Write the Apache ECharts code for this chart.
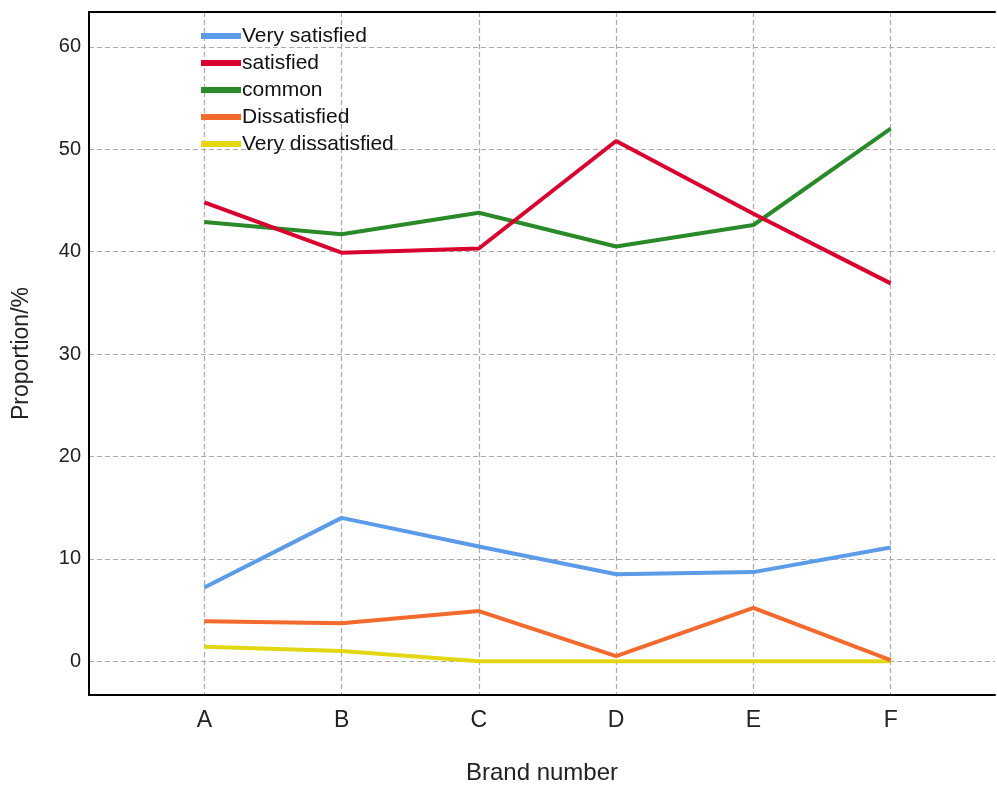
<!DOCTYPE html>
<html>
<head>
<meta charset="utf-8">
<script src="https://cdn.jsdelivr.net/npm/echarts@6/dist/echarts.min.js"></script>
<style>html,body{margin:0;padding:0;background:#fff}#c{width:997px;height:785px}</style>
</head>
<body>
<div id="c"></div>
<script>
var categories = ['A','B','C','D','E','F'];
var yTicks = [0,10,20,30,40,50,60];
var seriesNames = ['Very satisfied','satisfied','common','Dissatisfied','Very dissatisfied'];
var verySatisfied = [7.2,14.0,11.2,8.5,8.7,11.1];
var satisfied = [44.8,39.9,40.3,50.8,43.7,36.9];
var common = [42.9,41.7,43.8,40.5,42.6,52.0];
var dissatisfied = [3.9,3.7,4.9,0.5,5.2,0.1];
var veryDissatisfied = [1.4,1.0,0,0,0,0];
var colors = ['#5b9be8','#d8002e','#2a8a2a','#f36a2e','#e2d712'];

var allData = [verySatisfied,satisfied,common,dissatisfied,veryDissatisfied];
var chart = echarts.init(document.getElementById('c'));
var font = 'Liberation Sans, Arial, sans-serif';
var grid = {color:'#aaaaaa',type:[5,3],width:1.2};
chart.setOption({
  animation:false,
  textStyle:{fontFamily:font},
  grid:{left:89,top:12,right:2,bottom:90,containLabel:false,outerBoundsMode:'none'},
  legend:{
    orient:'vertical',left:196,top:20,itemGap:5,itemWidth:40,itemHeight:6,
    icon:'rect',data:seriesNames,
    textStyle:{fontSize:21,color:'#111',fontFamily:font,padding:[0,0,0,-4],lineHeight:22}
  },
  xAxis:[{
    type:'value',min:-0.84,max:5.76,
    name:'Brand number',nameLocation:'middle',nameGap:66,
    nameTextStyle:{fontSize:24,color:'#222',fontFamily:font},
    axisLine:{show:true,onZero:false,lineStyle:{color:'#000',width:2}},
    axisTick:{show:false,customValues:[0,1,2,3,4,5]},
    axisLabel:{customValues:[0,1,2,3,4,5],fontSize:23,color:'#222',margin:14,
      formatter:function(v){return categories[Math.round(v)];}},
    splitLine:{show:true,lineStyle:grid}
  },{
    type:'value',position:'top',min:-0.84,max:5.76,
    axisLine:{show:true,onZero:false,lineStyle:{color:'#000',width:2}},
    axisTick:{show:false},axisLabel:{show:false},splitLine:{show:false}
  }],
  yAxis:{
    type:'value',min:-3.3,max:63.4,
    name:'Proportion/%',nameLocation:'middle',nameGap:56,
    nameTextStyle:{fontSize:23,color:'#222',fontFamily:font},
    axisLine:{show:true,onZero:false,lineStyle:{color:'#000',width:2}},
    axisTick:{show:false,customValues:yTicks},
    axisLabel:{customValues:yTicks,fontSize:20,color:'#222',margin:8},
    splitLine:{show:true,lineStyle:grid}
  },
  series:seriesNames.map(function(n,i){
    return {name:n,type:'line',symbol:'none',color:colors[i],
      lineStyle:{width:4,color:colors[i]},
      data:allData[i].map(function(v,j){return [j,v];}),z:10-i};
  })
});
</script>
</body>
</html>
